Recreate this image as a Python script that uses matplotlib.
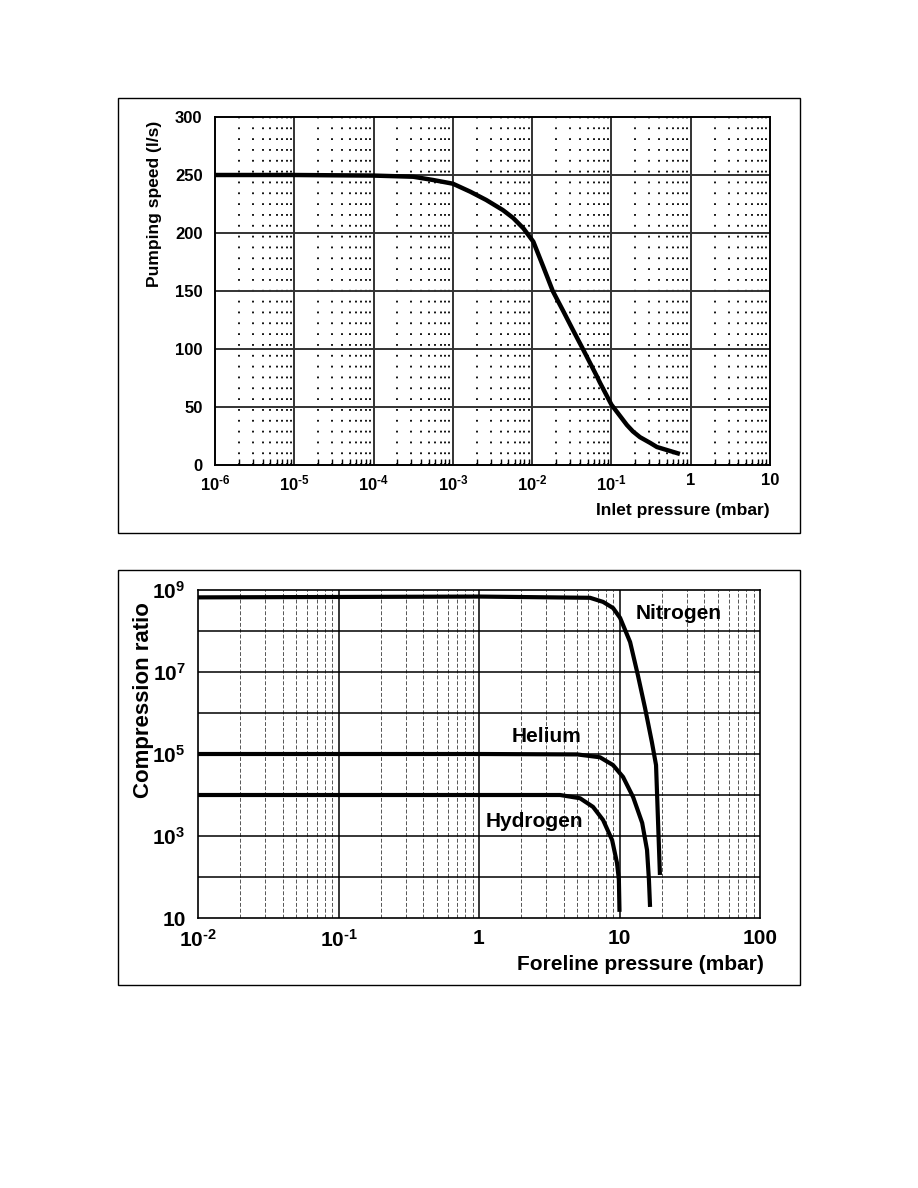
import matplotlib
matplotlib.use("Agg")
import matplotlib.pyplot as plt
import matplotlib.ticker as mtick
from matplotlib.patches import Rectangle
import numpy as np

plt.rcParams['font.family'] = ['Liberation Sans', 'DejaVu Sans']
plt.rcParams['font.weight'] = 'bold'
plt.rcParams['mathtext.fontset'] = 'custom'
plt.rcParams['mathtext.rm'] = 'Liberation Sans:bold'
plt.rcParams['mathtext.bf'] = 'Liberation Sans:bold'
plt.rcParams['mathtext.default'] = 'bf'

### DATA
# pumping speed curve (log10 of inlet pressure in mbar, speed in l/s)
inlet_logp = [-6, -5, -4, -3.5, -3.25, -3.0, -2.78, -2.58, -2.37, -2.24, -2.11,
              -1.985, -1.86, -1.74, -1.687, -1.61, -1.49, -1.36, -1.18, -1.145,
              -1.0, -0.805, -0.73, -0.64, -0.51, -0.426, -0.136]
speed = [250, 250, 249.5, 248.5, 245.7, 242.5, 235.6, 228.5, 219.8, 213, 204,
         192.5, 171, 150, 143, 133, 117, 100, 76, 71,
         52, 34.5, 29, 24, 19, 15.5, 9.5]
speed_yticks = [0, 50, 100, 150, 200, 250, 300]
inlet_xticks = [1e-6, 1e-5, 1e-4, 1e-3, 1e-2, 1e-1, 1, 10]
inlet_xlabels = [r'$10^{\text{-}6}$', r'$10^{\text{-}5}$', r'$10^{\text{-}4}$',
                 r'$10^{\text{-}3}$', r'$10^{\text{-}2}$', r'$10^{\text{-}1}$', '1', '10']

# compression ratio curves (foreline pressure in mbar, log10 of ratio)
n2_p = [0.01, 1, 6.17, 7.64, 9.0, 10.1, 11.9, 13.5, 15.2, 17.0, 18.2, 19.4]
n2_logk = [8.82, 8.84, 8.81, 8.71, 8.56, 8.32, 7.73, 6.93, 6.12, 5.29, 4.73, 2.05]
he_p = [0.01, 1, 4.99, 7.26, 8.99, 10.6, 12.5, 14.5, 15.7, 16.2, 16.5]
he_logk = [5.0, 5.0, 4.99, 4.92, 4.73, 4.44, 3.95, 3.32, 2.66, 1.93, 1.27]
h2_p = [0.01, 1, 3.78, 5.24, 6.48, 7.64, 8.86, 9.6, 9.9, 10.0]
h2_logk = [4.0, 4.0, 4.0, 3.92, 3.71, 3.39, 2.90, 2.34, 1.93, 1.15]
fore_xticks = [1e-2, 1e-1, 1, 10, 100]
fore_xlabels = [r'$10^{\text{-}2}$', r'$10^{\text{-}1}$', '1', '10', '100']
comp_yticks = [1e1, 1e2, 1e3, 1e4, 1e5, 1e6, 1e7, 1e8, 1e9]
comp_ylabels = ['10', '', r'$10^{3}$', '', r'$10^{5}$', '', r'$10^{7}$', '', r'$10^{9}$']
### END DATA

W, H = 918, 1188
fig = plt.figure(figsize=(W / 100, H / 100), dpi=100)


def fx(px):
    return px / W


def fy(py):
    return 1 - py / H


# outer frames
for (x0, y0, x1, y1) in [(118, 98, 800, 533), (118, 570, 800, 985)]:
    fig.patches.append(Rectangle((fx(x0), fy(y1)), fx(x1) - fx(x0), fy(y0) - fy(y1),
                                 transform=fig.transFigure, fill=False,
                                 edgecolor='black', linewidth=1.0))

minors = [m * 10.0 ** e for e in range(-6, 3) for m in range(2, 10)]

# ---------------- top: pumping speed ----------------
ax1 = fig.add_axes([fx(215), fy(465), fx(770) - fx(215), fy(117) - fy(465)])
ax1.set_xscale('log')
ax1.set_xlim(1e-6, 10)
ax1.set_ylim(0, 300)
for v in [m for m in minors if 1e-6 < m < 10]:
    ax1.axvline(v, color='black', linewidth=1.3, linestyle=(0, (1, 5)), zorder=1)
for v in inlet_xticks[1:-1]:
    ax1.axvline(v, color='#333333', linewidth=1.4, zorder=2)
for v in speed_yticks[1:-1]:
    ax1.axhline(v, color='#333333', linewidth=1.4, zorder=2)
ax1.plot(10.0 ** np.array(inlet_logp), speed, color='black', linewidth=3.2,
         solid_capstyle='butt', solid_joinstyle='round', zorder=5)
ax1.set_xticks(inlet_xticks)
ax1.set_xticklabels(inlet_xlabels)
ax1.xaxis.set_minor_locator(mtick.FixedLocator([m for m in minors if 1e-6 < m < 10]))
ax1.xaxis.set_minor_formatter(mtick.NullFormatter())
ax1.tick_params(axis='x', which='major', length=0, pad=6, labelsize=12)
ax1.tick_params(axis='x', which='minor', direction='in', length=4, width=1.0)
ax1.set_yticks(speed_yticks)
ax1.tick_params(axis='y', length=0, pad=9, labelsize=12)
for s in ax1.spines.values():
    s.set_linewidth(1.4)
fig.text(fx(770), fy(510), 'Inlet pressure (mbar)', ha='right', va='center',
         fontsize=12.5, fontweight='bold')
fig.text(fx(154), fy(204), 'Pumping speed (l/s)', ha='center', va='center',
         rotation=90, fontsize=12.5, fontweight='bold')

# ---------------- bottom: compression ratio ----------------
ax2 = fig.add_axes([fx(198), fy(918), fx(760) - fx(198), fy(590) - fy(918)])
ax2.set_xscale('log')
ax2.set_yscale('log')
ax2.set_xlim(1e-2, 100)
ax2.set_ylim(10, 1e9)
for v in [m for m in minors if 1e-2 < m < 100]:
    ax2.axvline(v, color='#555555', linewidth=0.7, linestyle=(0, (4, 2)), zorder=1)
for v in fore_xticks[1:-1]:
    ax2.axvline(v, color='black', linewidth=1.1, zorder=2)
for v in comp_yticks[1:-1]:
    ax2.axhline(v, color='black', linewidth=1.1, zorder=2)
for p, k in [(n2_p, n2_logk), (he_p, he_logk), (h2_p, h2_logk)]:
    ax2.plot(p, 10.0 ** np.array(k), color='black', linewidth=3.0,
             solid_capstyle='butt', solid_joinstyle='round', zorder=5)
ax2.set_xticks(fore_xticks)
ax2.set_xticklabels(fore_xlabels)
ax2.xaxis.set_minor_locator(mtick.NullLocator())
ax2.set_yticks(comp_yticks)
ax2.set_yticklabels(comp_ylabels)
ax2.yaxis.set_minor_locator(mtick.NullLocator())
ax2.tick_params(axis='x', length=0, pad=8, labelsize=15)
ax2.tick_params(axis='y', length=0, pad=9, labelsize=15)
for s in ax2.spines.values():
    s.set_linewidth(1.2)
ax2.text(13.1, 2.6e8, 'Nitrogen', ha='left', va='center', fontsize=15, fontweight='bold', zorder=6)
ax2.text(1.72, 2.6e5, 'Helium', ha='left', va='center', fontsize=15, fontweight='bold', zorder=6)
ax2.text(1.12, 2.3e3, 'Hydrogen', ha='left', va='center', fontsize=15, fontweight='bold', zorder=6)
fig.text(fx(764), fy(965), 'Foreline pressure (mbar)', ha='right', va='center',
         fontsize=15, fontweight='bold')
fig.text(fx(143), fy(700), 'Compression ratio', ha='center', va='center',
         rotation=90, fontsize=16, fontweight='bold')

fig.savefig('out.png', dpi=100)
